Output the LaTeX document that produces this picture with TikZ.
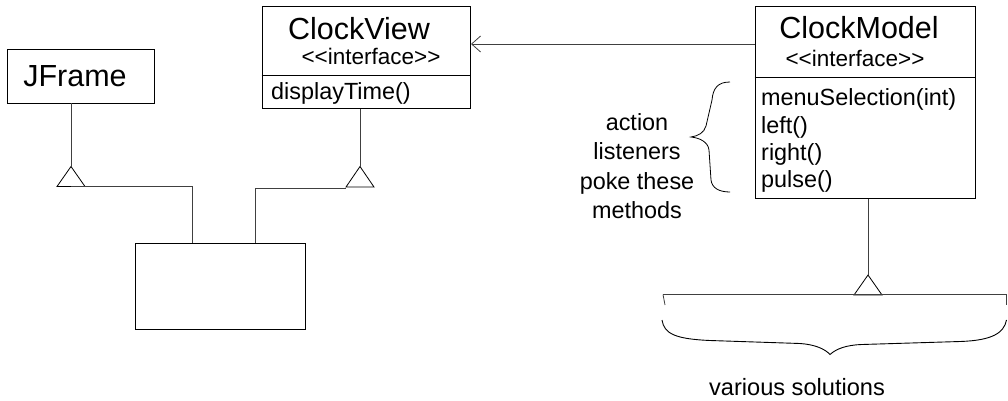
\documentclass[tikz,border=0pt]{standalone}
\usepackage{fontspec}
\setmainfont{Liberation Sans}[Ligatures=TeXOff]
\usetikzlibrary{arrows.meta}
\begin{document}
\begin{tikzpicture}[x=1pt,y=-1pt,
  box/.style={draw,line width=0.9pt,inner sep=0pt,minimum width=#1},
  ln/.style={line width=0.8pt,draw=black!75},
  title/.style={font=\fontsize{30.5}{34}\selectfont,inner sep=0pt,anchor=base},
  stereo/.style={font=\fontsize{22.5}{24}\selectfont,inner sep=0pt,anchor=base},
  meth/.style={font=\fontsize{23.4}{27}\selectfont,inner sep=0pt,anchor=base west},
  lbl/.style={font=\fontsize{23.4}{29.5}\selectfont,inner sep=0pt,align=center},
  inh/.style={line width=0.8pt},
]
\useasboundingbox (0,0) rectangle (1008,401);
% JFrame
\node[box=147, minimum height=54] (jf) at (80.5,76) {};
\node[title] (jft) at (75,87) {JFrame};
% ClockView
\node[box=208.5, minimum height=101.6] (cv) at (366.3,57.4) {};
\draw[line width=0.8pt] (cv.west |- 0,75) coordinate (cvdl) -- (cv.east |- 0,75) coordinate (cvdr);
\node[title] (cvt) at (359,40) {ClockView};
\node[stereo] (cvs) at (371,65) {<<interface>>};
\node[meth] (cvm) at (271,99.5) {displayTime()};
% ClockModel
\node[box=220, minimum height=191.5] (cm) at (865,102.5) {};
\draw[line width=0.8pt] (cm.west |- 0,77) coordinate (cmdl) -- (cm.east |- 0,77) coordinate (cmdr);
\node[title] (cmt) at (859,38.5) {ClockModel};
\node[stereo] (cms) at (855,66.5) {<<interface>>};
\node[meth] (m1) at (761,106) {menuSelection(int)};
\node[meth] (m2) at (761,133) {left()};
\node[meth] (m3) at (761,160) {right()};
\node[meth] (m4) at (761,187) {pulse()};
% implementing class
\node[box=170.5, minimum height=86] (impl) at (220.5,286) {};
% dependency arrow
\draw[ln,-{Straight Barb[length=9pt,width=16pt,line width=0.8pt]}] (cm.west |- 0,44) -- (cv.east |- 0,44);
% triangles
\coordinate (t1) at (71,166.5);
\draw[inh] (t1) -- ++(-14,20) -- ++(28,0) -- cycle;
\coordinate (t2) at (360,166.5);
\draw[inh] (t2) -- ++(-14,20.5) -- ++(28,0) -- cycle;
\coordinate (t3) at (868,275);
\draw[inh] (t3) -- ++(-14,20) -- ++(28,0) -- cycle;
% generalization lines
\draw[ln] (jf.south -| t1) -- (t1);
\draw[ln] (71,186.5) -- (192,186.5) -- (impl.north -| 192,0);
\draw[ln] (cv.south -| t2) -- (t2);
\draw[ln] (impl.north -| 255,0) -- (255,188) -- (346,188);
\draw[ln] (cm.south -| t3) -- (t3);
% bar under ClockModel triangle
\draw[ln] (663,294.5) -- (665,305);
\draw[ln] (663,294.5) -- (1006,294.5) -- (1006,305);
% big brace
\draw[line width=0.9pt] (662,320) .. controls (664,334) and (676,339) .. (710,340.5)
  -- (800,343.5) .. controls (815,344.5) and (825,349) .. (830,354.5)
  .. controls (836,349) and (846,345) .. (862,344.5)
  -- (960,341.5) .. controls (992,340.5) and (1004,333) .. (1006.5,320);
\node[font=\fontsize{23.6}{27}\selectfont,inner sep=0pt,anchor=base] (vs) at (797,395) {various solutions};
% small brace
\draw[line width=0.8pt] (730,82) .. controls (718,82) and (713,88) .. (712,100)
  -- (706,126) .. controls (704,133) and (698,136) .. (691,137)
  .. controls (700,138) and (708,142) .. (709,150)
  -- (711,180) .. controls (712,188) and (719,192) .. (730,192);
\node[lbl] (al) at (637,166) {action\\listeners\\poke these\\methods};
\end{tikzpicture}
\end{document}
